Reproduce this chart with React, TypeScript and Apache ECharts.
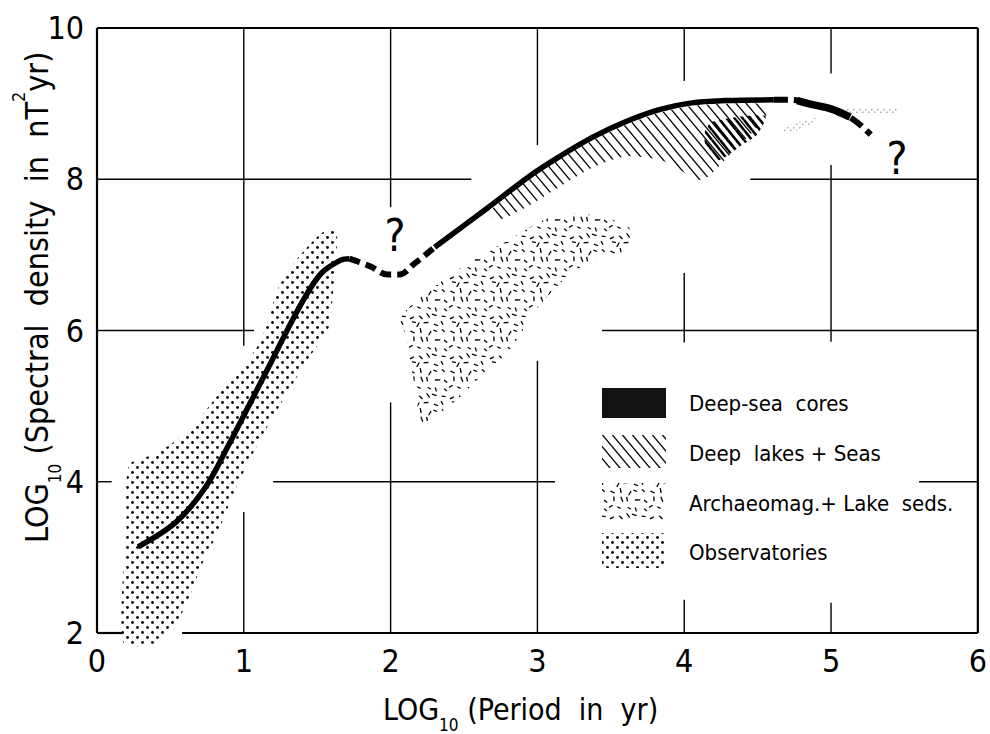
import React, { useEffect, useRef } from "react";
import * as echarts from "echarts";

const FONT = "'DejaVu Sans Condensed', 'DejaVu Sans', sans-serif";

// ---- axes ----
const xMin = 0, xMax = 6, xStep = 1;
const yMin = 2, yMax = 10, yStep = 2;

// ---- main spectrum curve: [log10 period, log10 spectral density] ----
const curveSolidLow = [[0.28,3.14],[0.54,3.47],[0.74,3.93],[0.9,4.5],[1.03,4.99],[1.17,5.52],[1.3,6.02],[1.42,6.45],[1.53,6.76],[1.66,6.93],[1.72,6.95]];
const curveDashedGap = [[1.72,6.95],[1.86,6.85],[1.98,6.74],[2.06,6.74],[2.16,6.88],[2.3,7.1]];
const curveSolidHigh = [[2.3,7.1],[2.66,7.62],[2.96,8.06],[3.15,8.3],[3.38,8.56],[3.6,8.76],[3.83,8.92],[4.05,9.01],[4.28,9.04],[4.61,9.05]];
const curveDashedTail = [[4.61,9.05],[4.73,9.05],[4.89,8.98],[5.07,8.88],[5.18,8.75],[5.27,8.59]];
const curveDeepSeaBlob = [[4.77,9.04],[4.89,8.98],[5.0,8.93],[5.13,8.82]];

// ---- shaded data regions ----
const regionObservatories = [[0.22,4.22],[0.41,4.38],[0.63,4.69],[0.85,5.21],[1.08,5.75],[1.17,6.14],[1.22,6.5],[1.32,6.84],[1.53,7.29],[1.63,7.3],[1.62,6.8],[1.59,6.14],[1.57,6.0],[1.42,5.57],[1.28,5.12],[1.15,4.69],[1.03,4.25],[0.92,3.8],[0.83,3.36],[0.72,2.93],[0.63,2.48],[0.54,2.13],[0.41,1.87],[0.18,1.87],[0.2,3.36]];
const regionArchaeomag = [[2.07,6.18],[2.36,6.67],[2.59,6.97],[2.81,7.2],[3.04,7.46],[3.22,7.55],[3.45,7.5],[3.62,7.37],[3.65,7.1],[3.38,6.93],[3.18,6.67],[2.97,6.23],[2.9,6.0],[2.79,5.7],[2.59,5.35],[2.45,5.08],[2.27,4.82],[2.2,4.8],[2.18,5.08],[2.14,5.52],[2.11,5.9]];
const regionDeepLakes = [[2.68,7.58],[2.96,8.02],[3.15,8.26],[3.38,8.52],[3.6,8.72],[3.83,8.88],[4.05,8.97],[4.28,9.0],[4.5,9.0],[4.56,8.85],[4.3,8.3],[4.12,7.99],[3.94,8.16],[3.83,8.26],[3.6,8.3],[3.38,8.16],[3.15,7.9],[2.95,7.66],[2.72,7.45]];
const regionDeepSea = [[4.14,8.62],[4.19,8.76],[4.55,8.84],[4.5,8.6],[4.39,8.45],[4.23,8.25],[4.15,8.4]];
const regionSpeckleA = [[4.66,8.64],[4.75,8.74],[4.9,8.81],[4.88,8.74],[4.72,8.62]];
const regionSpeckleB = [[4.95,8.91],[5.1,8.93],[5.45,8.94],[5.45,8.86],[5.1,8.86]];

// ---- "?" annotations ----
const questionMarks = [[2.03,7.26],[5.45,8.28]];

// ---- frame and grid segments [x1,y1,x2,y2] (gaps as in the original drawing) ----
const frameSegments = [[0,10,6,10],[0,2,0,10],[6,2,6,10],[0,2,0.18,2],[0.58,2,6,2]];
const gridSegments = [
  [1,10,1,5.8],[1,3.6,1,2],
  [2,10,2,7.63],[2,5.05,2,2],
  [3,10,3,8.45],[3,5.6,3,2],
  [4,10,4,9.3],[4,6.76,4,5.84],[4,2.44,4,2],
  [5,10,5,9.4],[5,8.19,5,5.85],[5,2.4,5,2],
  [0,8,2.55,8],[4.45,8,6,8],
  [0,6,1.07,6],[3.44,6,6,6],
  [0,4,0.1,4],[1.2,4,3.12,4],[5.6,4,6,4]
];

// ---- legend ----
const legendLabels = ["Deep-sea  cores", "Deep  lakes + Seas", "Archaeomag.+ Lake  seds.", "Observatories"];

function canvasTile(w: number, h: number, draw: (ctx: CanvasRenderingContext2D) => void) {
  const c = document.createElement("canvas");
  c.width = w; c.height = h;
  const ctx = c.getContext("2d")!;
  draw(ctx);
  return { image: c.toDataURL(), repeat: "repeat", imageWidth: w, imageHeight: h } as any;
}

function hatchTile(w: number, h: number, lw: number, color: string) {
  return canvasTile(w, h, (ctx) => {
    ctx.strokeStyle = color; ctx.lineWidth = lw;
    for (const o of [-w, 0, w]) {
      ctx.beginPath(); ctx.moveTo(o, 0); ctx.lineTo(o + w, h); ctx.stroke();
      ctx.beginPath(); ctx.moveTo(o, -h); ctx.lineTo(o + w, 0); ctx.stroke();
      ctx.beginPath(); ctx.moveTo(o, h); ctx.lineTo(o + w, 2 * h); ctx.stroke();
    }
  });
}

function dotTile() {
  return canvasTile(10, 10, (ctx) => {
    ctx.fillStyle = "#000";
    for (const [x, y] of [[2.5, 2.5], [7.5, 7.5]]) {
      ctx.beginPath(); ctx.arc(x, y, 1.4, 0, Math.PI * 2); ctx.fill();
    }
  });
}

function dashTile() {
  const n = 5, cell = 8, w = n * cell;
  let s = 2024;
  const rnd = () => { s = (s * 16807) % 2147483647; return s / 2147483647; };
  return canvasTile(w, w, (ctx) => {
    ctx.strokeStyle = "#000"; ctx.lineWidth = 1.3;
    for (let gx = 0; gx < n; gx++) for (let gy = 0; gy < n; gy++) {
      const cx = gx * cell + cell / 2 + (rnd() - 0.5) * 4;
      const cy = gy * cell + cell / 2 + (rnd() - 0.5) * 4;
      const a = rnd() * Math.PI, L = 3.5 + rnd() * 2;
      const dx = Math.cos(a) * L / 2, dy = Math.sin(a) * L / 2;
      for (const ox of [-w, 0, w]) for (const oy of [-w, 0, w]) {
        ctx.beginPath(); ctx.moveTo(cx - dx + ox, cy - dy + oy); ctx.lineTo(cx + dx + ox, cy + dy + oy); ctx.stroke();
      }
    }
  });
}

function speckTile() {
  return canvasTile(6, 6, (ctx) => {
    ctx.fillStyle = "rgba(0,0,0,0.35)";
    ctx.fillRect(1, 1, 1.5, 1.5); ctx.fillRect(4, 3.5, 1.5, 1.5);
  });
}

export default function App() {
  const ref = useRef<HTMLDivElement>(null);
  useEffect(() => {
    const el = ref.current!;
    const chart = echarts.init(el, null, { renderer: "svg" });

    const patHatch = hatchTile(10, 12, 1.3, "#000");
    const patDeepSea = hatchTile(8, 10, 2.6, "#000");
    const patDots = dotTile();
    const patDash = dashTile();
    const patSpeck = speckTile();

    const mctx = document.createElement("canvas").getContext("2d")!;
    const measure = (t: string, size: number) => { mctx.font = `${size}px ${FONT}`; return mctx.measureText(t).width; };
    const layout = (pieces: { t: string; size: number; dy: number }[]) => {
      let x = 0;
      return pieces.map((p) => {
        const el = {
          type: "text", x, y: p.dy,
          style: { text: p.t, font: `${p.size}px ${FONT}`, fill: "#000", textAlign: "left", textVerticalAlign: "middle", align: "left", verticalAlign: "middle" },
        };
        x += measure(p.t, p.size);
        return el;
      });
    };

    const xTitle = layout([
      { t: "LOG", size: 30, dy: 0 },
      { t: "10", size: 17, dy: 16 },
      { t: " (Period  in  yr)", size: 30, dy: 0 },
    ]);
    const yTitle = layout([
      { t: "LOG", size: 32, dy: 0 },
      { t: "10", size: 17, dy: 18 },
      { t: " (Spectral  density  in  nT", size: 32, dy: 0 },
      { t: "2", size: 18, dy: -19 },
      { t: "yr)", size: 32, dy: 0 },
    ]);

    const polySeries = (name: string, pts: number[][], fill: any, z: number) => ({
      type: "custom", name, data: pts, encode: { x: 0, y: 1 }, z, silent: true, clip: false,
      renderItem: (params: any, api: any) => {
        if (params.dataIndex !== 0) return null;
        const points = pts.map((p) => api.coord(p));
        return { type: "polygon", shape: { points, smooth: 0.25 }, style: { fill, stroke: null } };
      },
    });

    const segSeries = (name: string, segs: number[][], lw: number) => ({
      type: "custom", name, data: segs, encode: { x: [0, 2], y: [1, 3] }, z: 1, silent: true, clip: false,
      renderItem: (params: any, api: any) => {
        const a = api.coord([api.value(0), api.value(1)]);
        const b = api.coord([api.value(2), api.value(3)]);
        return { type: "line", shape: { x1: a[0], y1: a[1], x2: b[0], y2: b[1] }, style: { stroke: "#000", lineWidth: lw } };
      },
    });

    const lineSeries = (name: string, data: number[][], width: number, type: any, z = 6) => ({
      type: "line", name, data, smooth: 0.35, symbol: "none", z, silent: true,
      lineStyle: { color: "#000", width, type, cap: "butt" },
    });

    const legendTop = [388, 435, 483, 533];
    const legendH = [30, 33, 37, 35];
    const legendFills = ["#131313", patHatch, patDash, patDots];
    const legendCenters = [403, 453, 503, 552];

    const graphics: any[] = [];
    legendFills.forEach((f, i) => {
      graphics.push({ type: "rect", shape: { x: 602, y: legendTop[i], width: 64, height: legendH[i] }, style: { fill: f }, z: 10 });
      graphics.push({
        type: "text", x: 689, y: legendCenters[i], z: 10,
        style: { text: legendLabels[i], font: `22px ${FONT}`, fill: "#000", textAlign: "left", textVerticalAlign: "middle", align: "left", verticalAlign: "middle" },
      });
    });
    graphics.push({ type: "group", x: 383, y: 709, children: xTitle });
    graphics.push({ type: "group", x: 37, y: 543, rotation: Math.PI / 2, children: yTitle });

    const option: any = {
      animation: false,
      backgroundColor: "#fff",
      grid: { left: 97, right: 5, top: 28, bottom: 101, show: false },
      xAxis: {
        type: "value", min: xMin, max: xMax, interval: xStep,
        axisLine: { show: false }, axisTick: { show: false }, splitLine: { show: false },
        axisLabel: { fontSize: 32, fontFamily: FONT, color: "#000", margin: 12 },
      },
      yAxis: {
        type: "value", min: yMin, max: yMax, interval: yStep,
        axisLine: { show: false }, axisTick: { show: false }, splitLine: { show: false },
        axisLabel: { fontSize: 32, fontFamily: FONT, color: "#000", margin: 13 },
      },
      graphic: graphics,
      series: [
        segSeries("frame", frameSegments, 2.2),
        segSeries("grid", gridSegments, 1.4),
        polySeries("Observatories", regionObservatories, patDots, 2),
        polySeries("Archaeomag.+ Lake seds.", regionArchaeomag, patDash, 2),
        polySeries("Deep lakes + Seas", regionDeepLakes, patHatch, 2),
        polySeries("Deep-sea cores", regionDeepSea, patDeepSea, 3),
        polySeries("speckle A", regionSpeckleA, patSpeck, 3),
        polySeries("speckle B", regionSpeckleB, patSpeck, 3),
        lineSeries("curve low", curveSolidLow, 5.5, "solid"),
        lineSeries("curve gap", curveDashedGap, 6, [11, 6]),
        lineSeries("curve high", curveSolidHigh, 5.5, "solid"),
        lineSeries("curve tail", curveDashedTail, 6, [14, 6]),
        lineSeries("deep-sea blob", curveDeepSeaBlob, 7.5, "solid", 7),
        {
          type: "custom", name: "question marks", data: questionMarks, encode: { x: 0, y: 1 }, z: 8, silent: true, clip: false,
          renderItem: (params: any, api: any) => {
            const p = api.coord([api.value(0), api.value(1)]);
            return {
              type: "text", x: p[0], y: p[1],
              style: { text: "?", font: `44px ${FONT}`, fill: "#000", textAlign: "center", textVerticalAlign: "middle", align: "center", verticalAlign: "middle" },
            };
          },
        },
      ],
    };
    chart.setOption(option);
    return () => chart.dispose();
  }, []);
  return <div ref={ref} style={{ position: "absolute", left: 0, top: 0, width: 990, height: 734 }} />;
}
